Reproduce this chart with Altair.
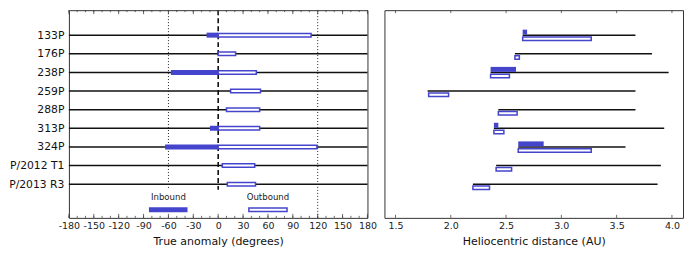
import altair as alt
import pandas as pd

# ---- data ----
names = ["133P", "176P", "238P", "259P", "288P", "313P", "324P", "P/2012 T1", "P/2013 R3"]
rows = list(range(len(names)))

# true anomaly (degrees)
in_start = [-14, None, -57, None, None, -10, -64, None, None]
in_end = [0, None, 0, None, None, 0, 0, None, None]
out_start = [0, 0, 0, 15, 10, 0, 0, 5, 11]
out_end = [112, 21, 46, 51, 50, 50, 119, 44, 45]

# heliocentric distance (AU)
q_peri = [2.65, 2.58, 2.36, 1.79, 2.43, 2.39, 2.61, 2.41, 2.20]
Q_aph = [3.67, 3.82, 3.97, 3.67, 3.67, 3.93, 3.58, 3.90, 3.87]
r_in_start = [2.65, None, 2.36, None, None, 2.39, 2.61, None, None]
r_in_end = [2.69, None, 2.59, None, None, 2.43, 2.84, None, None]
r_out_start = [2.65, 2.58, 2.36, 1.80, 2.43, 2.39, 2.61, 2.41, 2.20]
r_out_end = [3.27, 2.62, 2.53, 1.98, 2.60, 2.48, 3.27, 2.55, 2.35]

ta_major = list(range(-180, 181, 30))
ta_minor = list(range(-180, 181, 10))
au_major = [1.5, 2.0, 2.5, 3.0, 3.5, 4.0]

legend_labels = ["Inbound", "Outbound"]
legend_center = [-60, 60]
legend_start = [-83.5, 37]
legend_end = [-37, 83]
legend_text_row = 8.7
legend_bar_row = 9.38

ref_dotted = [-60]
ref_dashed = [0]
ref_full = [120]
ref_end_row = 8.3

# ---- style ----
BLUE = "#4444CC"
W, H = 299, 208
YDOM = [-1.34, 9.81]
FONT = "DejaVu Sans"

left_df = pd.DataFrame({"row": rows, "name": names, "in_start": in_start, "in_end": in_end,
                        "out_start": out_start, "out_end": out_end})
right_df = pd.DataFrame({"row": rows, "q": q_peri, "Q": Q_aph, "in_start": r_in_start,
                         "in_end": r_in_end, "out_start": r_out_start, "out_end": r_out_end})

axis_common = dict(grid=False, ticks=False, domain=False, labelFont=FONT, labelFontSize=9.5,
                   labelColor="#222", titleFont=FONT, titleFontSize=11, titleFontWeight="normal",
                   titleColor="#111", labelPadding=3, titlePadding=5, labelFlush=False,
                   labelOverlap=False)


def xl(field):
    return alt.X(f"{field}:Q", scale=alt.Scale(domain=[-180, 180], nice=False, zero=False, padding=0),
                 axis=alt.Axis(values=ta_major, title="True anomaly (degrees)",
                               labelExpr="replace(datum.label, '\u2212', '-')", **axis_common))


def xr(field):
    return alt.X(f"{field}:Q", scale=alt.Scale(domain=[1.4, 4.1], nice=False, zero=False, padding=0),
                 axis=alt.Axis(values=au_major, format=".1f", title="Heliocentric distance (AU)", **axis_common))


label_expr = "[" + ",".join(f"'{n}'" for n in names) + "][datum.value]"


def yl(field="row"):
    return alt.Y(f"{field}:Q", scale=alt.Scale(domain=YDOM, reverse=True, nice=False, zero=False, padding=0),
                 axis=alt.Axis(values=rows, labelExpr=label_expr, title=None, grid=False, ticks=False,
                               domain=False, labelFont=FONT, labelFontSize=10.8, labelColor="#111",
                               labelPadding=5))


def yr(field="row"):
    return alt.Y(f"{field}:Q", scale=alt.Scale(domain=YDOM, reverse=True, nice=False, zero=False, padding=0),
                 axis=None)


def tick_layers(xfun, major, minor, major_len, minor_len):
    layers = []
    if minor:
        mdf = pd.DataFrame({"t": minor})
        base = alt.Chart(mdf).mark_rule(color="#444", strokeWidth=0.8)
        layers.append(base.encode(x=xfun("t"), y=alt.value(H), y2=alt.value(H - minor_len)))
        layers.append(base.encode(x=xfun("t"), y=alt.value(0), y2=alt.value(minor_len)))
    Mdf = pd.DataFrame({"t": major})
    base = alt.Chart(Mdf).mark_rule(color="#444", strokeWidth=0.8)
    layers.append(base.encode(x=xfun("t"), y=alt.value(H), y2=alt.value(H - major_len)))
    layers.append(base.encode(x=xfun("t"), y=alt.value(0), y2=alt.value(major_len)))
    return layers


# ---- left panel ----
lbase = alt.Chart(left_df)
row_lines = lbase.mark_rule(color="#111", strokeWidth=1.5).encode(
    x=alt.value(0), x2=alt.value(W), y=yl())

dotted_df = pd.DataFrame({"x": ref_dotted, "y0": [YDOM[0]], "y1": [ref_end_row]})
dashed_df = pd.DataFrame({"x": ref_dashed, "y0": [YDOM[0]], "y1": [ref_end_row]})
full_df = pd.DataFrame({"x": ref_full})
v_dotted = alt.Chart(dotted_df).mark_rule(color="#222", strokeWidth=1, strokeDash=[1, 2]).encode(
    x=xl("x"), y=yl("y0"), y2="y1:Q")
v_dashed = alt.Chart(dashed_df).mark_rule(color="#111", strokeWidth=1.6, strokeDash=[5, 3]).encode(
    x=xl("x"), y=yl("y0"), y2="y1:Q")
v_full = alt.Chart(full_df).mark_rule(color="#222", strokeWidth=1, strokeDash=[1, 2]).encode(
    x=xl("x"), y=alt.value(0), y2=alt.value(H))

l_in = lbase.transform_filter("isValid(datum.in_start)").mark_bar(
    color=BLUE, size=5, orient="horizontal").encode(x=xl("in_start"), x2="in_end:Q", y=yl())
l_out = lbase.mark_bar(fill="white", stroke=BLUE, strokeWidth=1.5, size=3.5, orient="horizontal").encode(
    x=xl("out_start"), x2="out_end:Q", y=yl())

leg_df = pd.DataFrame({"label": legend_labels, "c": legend_center, "s": legend_start, "e": legend_end,
                       "tr": [legend_text_row] * 2, "br": [legend_bar_row] * 2})
leg_text = alt.Chart(leg_df).mark_text(font=FONT, fontSize=8.6, color="#222", baseline="middle").encode(
    x=xl("c"), y=yl("tr"), text="label:N")
leg_in = alt.Chart(leg_df).transform_filter("datum.label == 'Inbound'").mark_bar(
    color=BLUE, size=5, orient="horizontal").encode(x=xl("s"), x2="e:Q", y=yl("br"))
leg_out = alt.Chart(leg_df).transform_filter("datum.label == 'Outbound'").mark_bar(
    fill="white", stroke=BLUE, strokeWidth=1.5, size=3.5, orient="horizontal").encode(
    x=xl("s"), x2="e:Q", y=yl("br"))

left = alt.layer(row_lines, v_dotted, v_dashed, v_full, l_in, l_out, leg_text, leg_in, leg_out,
                 *tick_layers(xl, ta_major, ta_minor, 4, 2)).properties(width=W, height=H)

# ---- right panel ----
rbase = alt.Chart(right_df)
r_lines = rbase.mark_rule(color="#111", strokeWidth=1.5).encode(x=xr("q"), x2="Q:Q", y=yr())
r_in = rbase.transform_filter("isValid(datum.in_start)").mark_bar(
    color=BLUE, size=5, yOffset=-3, orient="horizontal").encode(x=xr("in_start"), x2="in_end:Q", y=yr())
r_out = rbase.mark_bar(fill="white", stroke=BLUE, strokeWidth=1.5, size=3.5, yOffset=3.7,
                       orient="horizontal").encode(x=xr("out_start"), x2="out_end:Q", y=yr())

right = alt.layer(r_lines, r_in, r_out, *tick_layers(xr, au_major, None, 3, 0)).properties(width=W, height=H)

chart = alt.hconcat(left, right, spacing=17, bounds="flush").properties(
    padding={"left": 0, "top": 0, "right": 0, "bottom": 0}
).configure(background="white", view=alt.ViewConfig(stroke="#333", strokeWidth=1))

chart.save("out.html", embed_options={"renderer": "svg", "actions": False})
